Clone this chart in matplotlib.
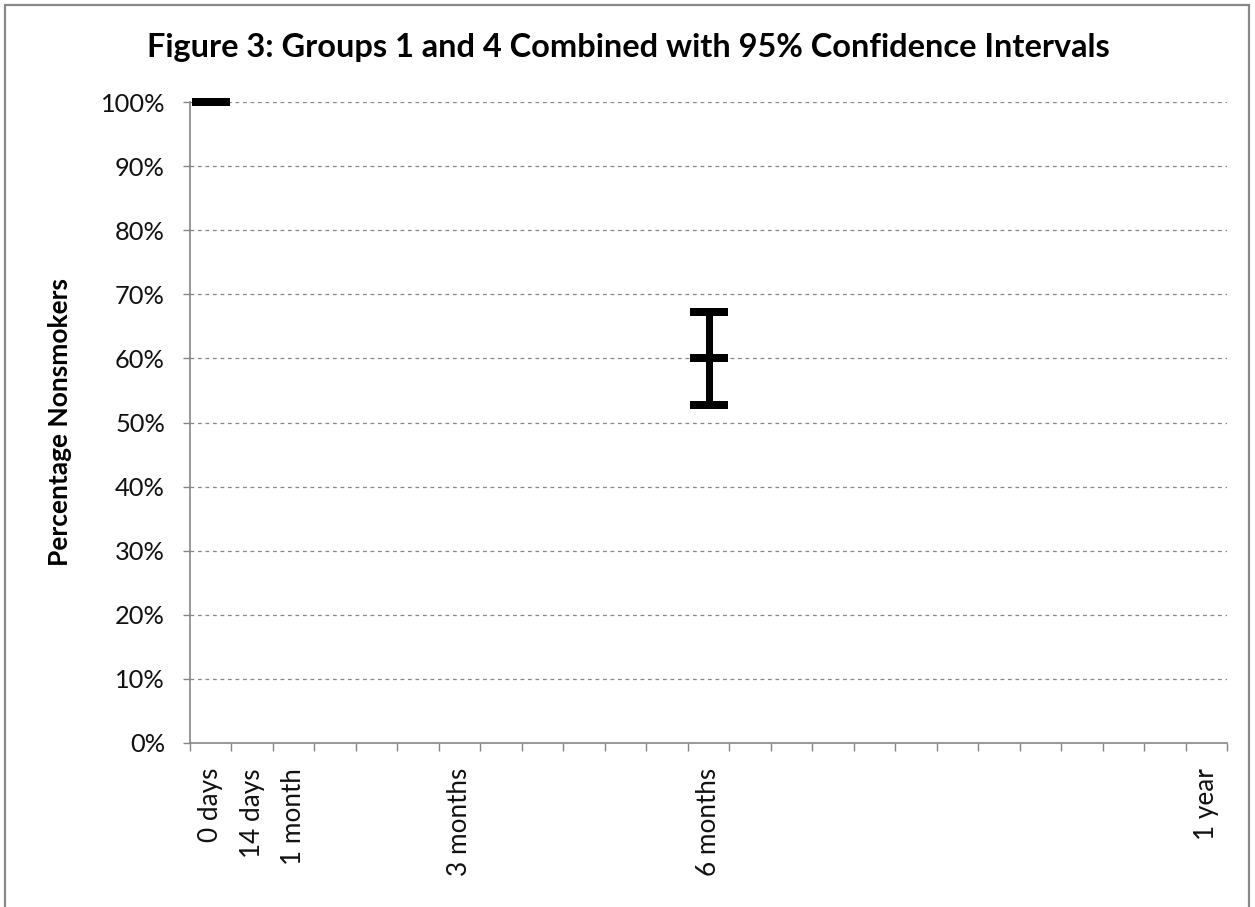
import numpy as np
import matplotlib
matplotlib.use("Agg")
import matplotlib.pyplot as plt
from matplotlib.patches import Rectangle

# ---- data ----
categories = ["0 days", "14 days", "1 month", "", "", "", "3 months", "", "", "", "", "",
              "6 months", "", "", "", "", "", "", "", "", "", "", "", "1 year"]
pct_nonsmokers = [100, np.nan, np.nan, np.nan, np.nan, np.nan, np.nan, np.nan, np.nan, np.nan,
                  np.nan, np.nan, 60, np.nan, np.nan, np.nan, np.nan, np.nan, np.nan, np.nan,
                  np.nan, np.nan, np.nan, np.nan, np.nan]
ci_lower = {12: 52.7}
ci_upper = {12: 67.3}
y_ticks = [0, 10, 20, 30, 40, 50, 60, 70, 80, 90, 100]
y_tick_labels = [f"{v}%" for v in y_ticks]
title = "Figure 3: Groups 1 and 4 Combined with 95% Confidence Intervals"
ylabel = "Percentage Nonsmokers"

FONT = "Lato"
W, H = 1255, 907
fig = plt.figure(figsize=(W / 100, H / 100), dpi=100)
ax = fig.add_axes([190 / W, 1 - 743 / H, (1227 - 190) / W, (743 - 102) / H])

n = len(categories)
x = np.arange(n)
GRID = "#868686"
AXC = "#868686"

# grid
ax.set_ylim(0, 100)
ax.set_xlim(-0.5, n - 0.5)
ax.set_yticks(y_ticks)
ax.set_yticklabels(y_tick_labels, fontfamily=FONT, fontsize=18.3, color="#111111")
for v in y_ticks[1:]:
    ax.axhline(v, color=GRID, lw=0.9, ls=(0, (3, 3)), zorder=1)

# x ticks: boundaries as major, labels at centers
ax.set_xticks(np.arange(n + 1) - 0.5)
ax.set_xticklabels([])
ax.set_xticks(x, minor=True)
ax.set_xticklabels(categories, minor=True, rotation=90, fontfamily=FONT, fontsize=18.8,
                   color="#111111", va="top", ha="center")
ax.tick_params(axis="x", which="major", length=6, width=1, color=AXC, direction="out")
ax.tick_params(axis="x", which="minor", length=0, pad=18)
ax.tick_params(axis="y", length=5, width=1, color=AXC, direction="out", pad=13)

for s in ["top", "right"]:
    ax.spines[s].set_visible(False)
for s in ["left", "bottom"]:
    ax.spines[s].set_color(AXC)
    ax.spines[s].set_linewidth(1.2)

# data markers
ms = 38 * 72 / 100
mw = 8 * 72 / 100
ax.plot(x, pct_nonsmokers, ls="none", marker="_", markersize=ms, markeredgewidth=mw,
        color="black", clip_on=False, zorder=5)
for i, lo in ci_lower.items():
    hi = ci_upper[i]
    y = pct_nonsmokers[i]
    ax.errorbar([x[i]], [y], yerr=[[y - lo], [hi - y]], fmt="none", ecolor="black",
                elinewidth=7 * 72 / 100, capsize=ms / 2, capthick=mw, zorder=5)

fig.text(60 / W, 1 - 422 / H, ylabel, rotation=90, ha="center", va="center",
         fontfamily=FONT, fontsize=19, fontweight="bold")

fig.text(628 / W, 1 - 47 / H, title, ha="center", va="center", fontfamily=FONT,
         fontsize=23.4, fontweight="bold")

# outer frame
fig.patches.append(Rectangle((5 / W, -0.05), (1249 - 5) / W, 1 - 5 / H + 0.05,
                             transform=fig.transFigure, fill=False, ec="#888888", lw=1.6))

fig.savefig("out.png", dpi=100)
